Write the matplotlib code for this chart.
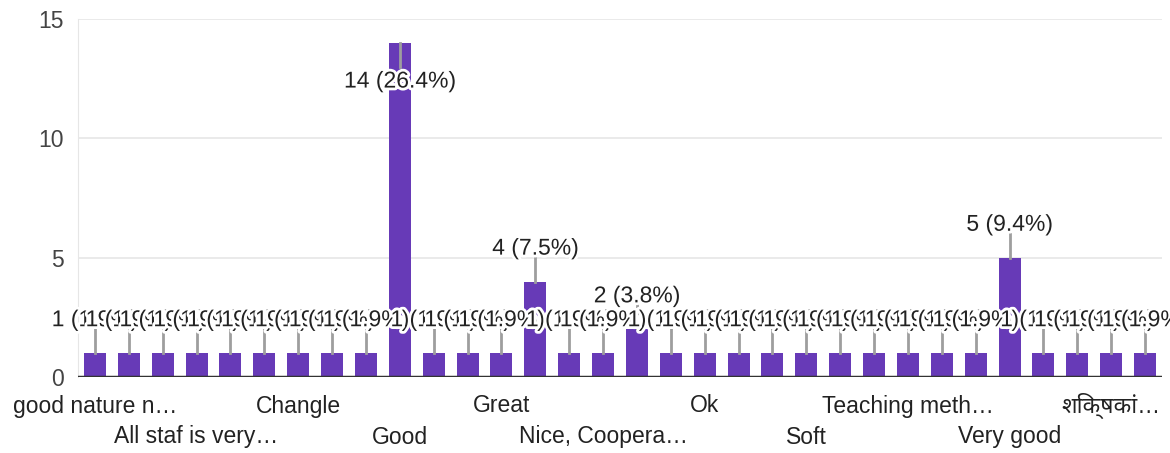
import matplotlib.pyplot as plt
import matplotlib.patheffects as pe
from matplotlib.transforms import blended_transform_factory

# categories (only every third one is printed on the axis)
labels = [
    "good nature n…", "Best", "Excellent",
    "All staf is very…", "Awesome", "Better",
    "Changle", "Fine", "Friendly",
    "Good", "Good teaching", "Good teachers",
    "Great", "Helpful", "Kind",
    "Nice, Coopera…", "Nice", "Nice teachers",
    "Ok", "Polite", "Satisfied",
    "Soft", "Supportive", "Superb",
    "Teaching meth…", "Teachers are good", "Very nice",
    "Very good", "Well", "Wonderful",
    "शिक्षकां…", "अच्छा",
]
counts = [1, 1, 1, 1, 1, 1, 1, 1, 1, 14, 1, 1, 1, 4, 1, 1, 2, 1,
          1, 1, 1, 1, 1, 1, 1, 1, 1, 5, 1, 1, 1, 1]
total = sum(counts)
yticks = [0, 5, 10, 15]

plt.rcParams['font.family'] = ['Liberation Sans', 'Noto Sans', 'DejaVu Sans']
FS = 16.5

fig = plt.figure(figsize=(11.7, 4.53), dpi=100)
ax = fig.add_axes([78 / 1170, 1 - 377 / 453, (1162 - 78) / 1170, (377 - 19) / 453])

x = list(range(len(counts)))
ax.bar(x, counts, width=0.65, color="#673ab7", zorder=2)

ax.set_xlim(-0.5, len(counts) - 0.5)
ax.set_ylim(0, 15)
ax.set_yticks(yticks)
ax.set_yticklabels([str(t) for t in yticks], fontsize=FS, color="#444444")
ax.tick_params(axis="y", length=0, pad=10)
ax.set_xticks([])
ax.grid(axis="y", color="#e6e6e6", linewidth=1.2, zorder=0)
for s in ["top", "right", "bottom"]:
    ax.spines[s].set_visible(False)
ax.spines["left"].set_color("#e6e6e6")
ax.axhline(0, color="#333333", linewidth=2.5, zorder=3)

halo = [pe.withStroke(linewidth=4, foreground="white")]
for i, v in enumerate(counts):
    txt = "%d (%.1f%%)" % (v, 100.0 * v / total)
    if v + 1.6 > 15:
        ax.plot([i, i], [v, v - 1.0], color="#9e9e9e", linewidth=2, zorder=3)
        ty = v - 1.6
    else:
        ax.plot([i, i], [v, v + 1.0], color="#9e9e9e", linewidth=2, zorder=3)
        ty = v + 1.4
    ax.text(i, ty, txt, ha="center", va="center", fontsize=FS,
            color="#222222", path_effects=halo, zorder=4)

tr = blended_transform_factory(ax.transData, fig.transFigure)
shown = list(range(0, len(labels), 3))
for k, i in enumerate(shown):
    y = 1 - 406 / 453 if k % 2 == 0 else 1 - 437 / 453
    ax.text(i, y, labels[i], transform=tr, ha="center", va="center",
            fontsize=FS, color="#222222", clip_on=False)

fig.savefig("out.png", dpi=100)
